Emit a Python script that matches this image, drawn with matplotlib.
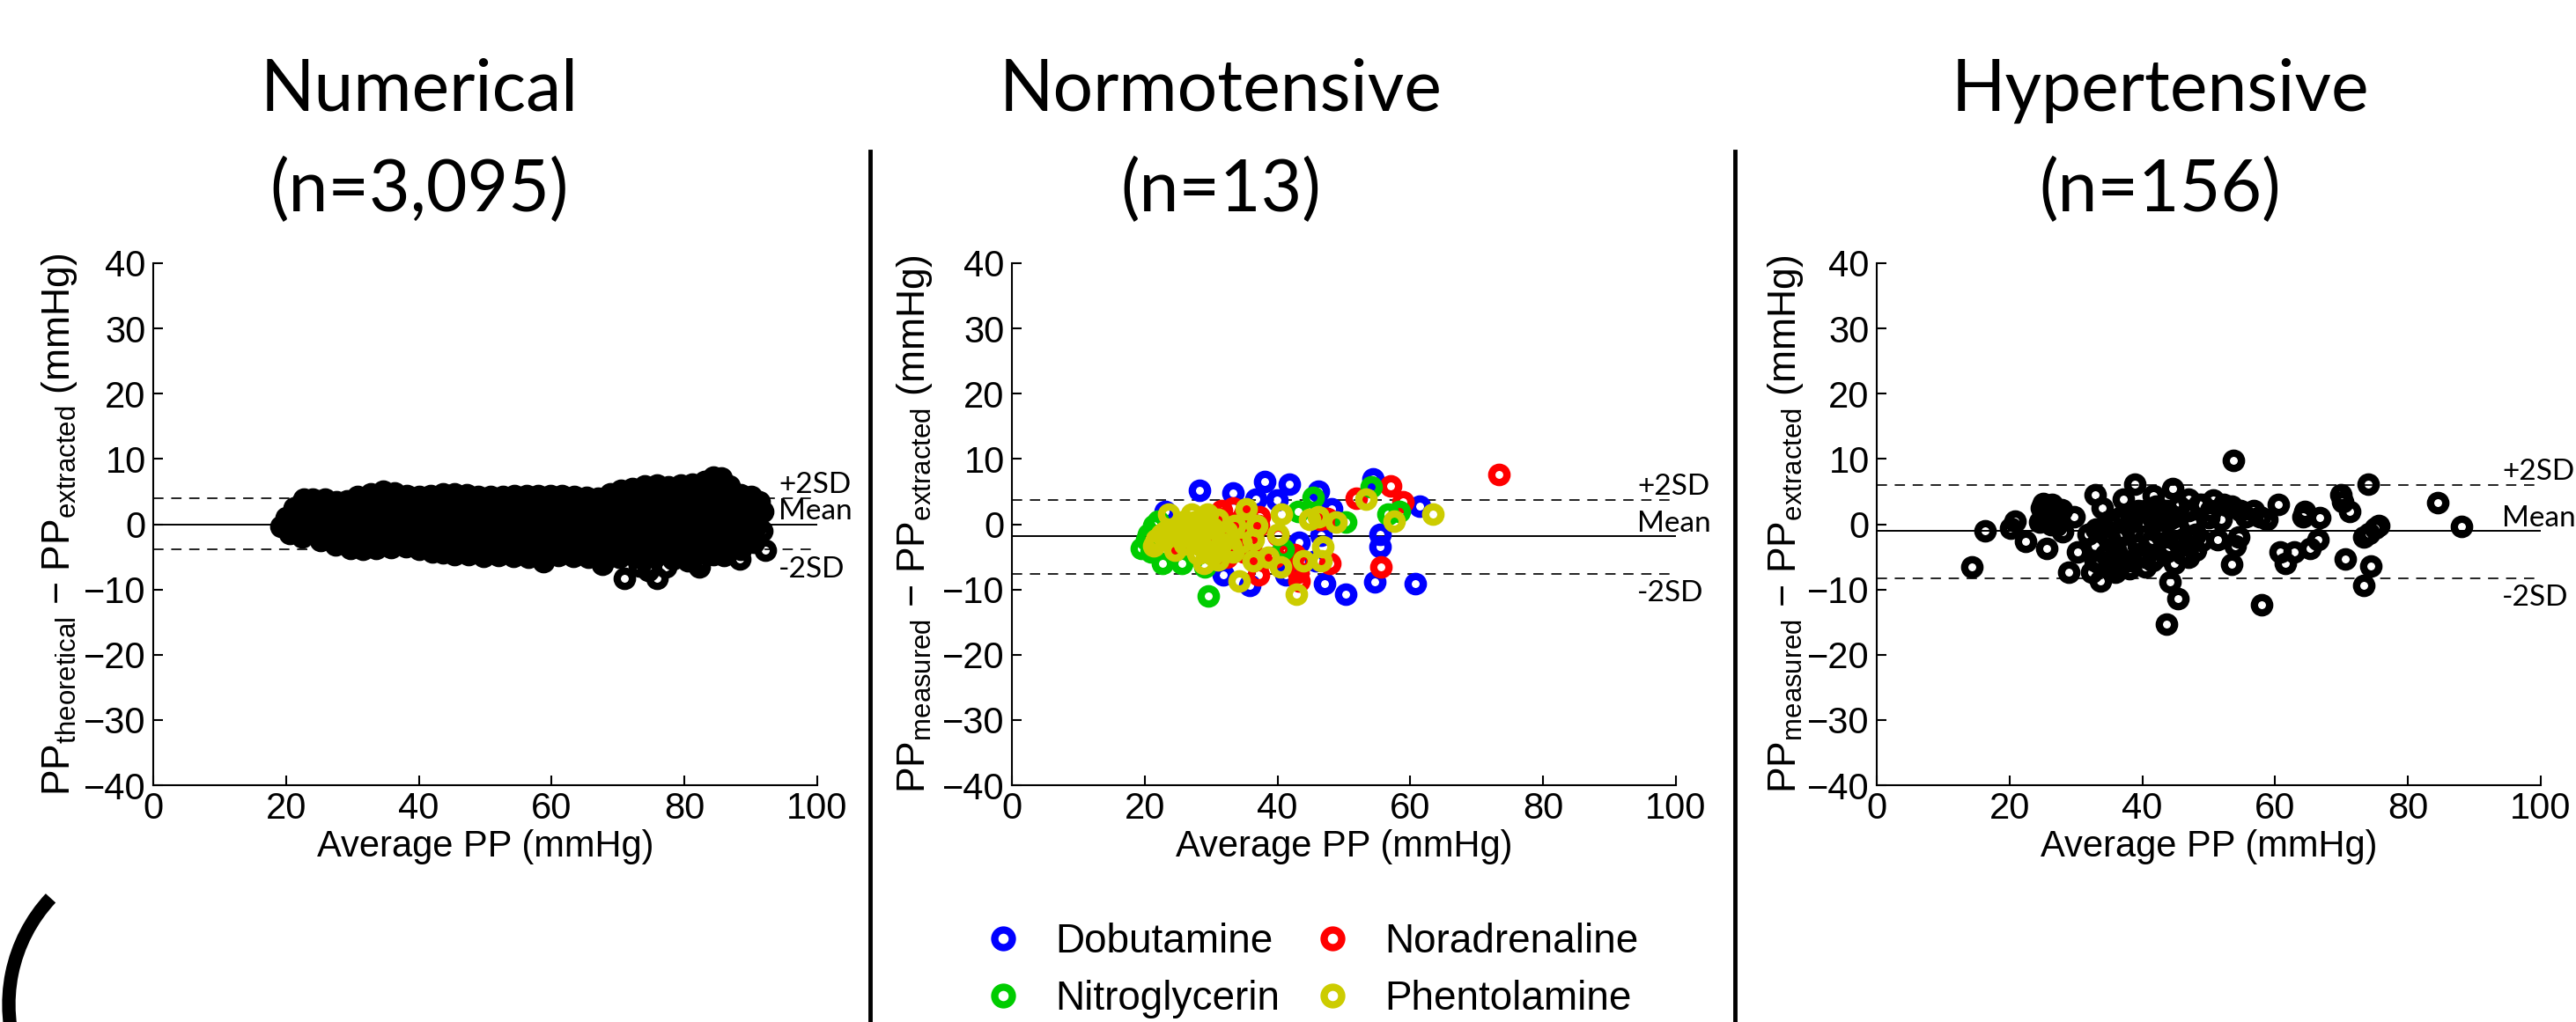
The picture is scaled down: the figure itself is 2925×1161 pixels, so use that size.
import matplotlib
matplotlib.use('Agg')
import matplotlib.pyplot as plt
from matplotlib.lines import Line2D
from matplotlib.patches import Arc

plt.rcParams['font.family'] = ['Liberation Sans', 'DejaVu Sans']
plt.rcParams['mathtext.fontset'] = 'custom'
plt.rcParams['mathtext.rm'] = 'Liberation Sans'
plt.rcParams['mathtext.it'] = 'Liberation Sans:italic'
plt.rcParams['mathtext.bf'] = 'Liberation Sans:bold'

# ---------------- data ----------------
titles_line1 = ['Numerical', 'Normotensive', 'Hypertensive']
titles_line2 = ['(n=3,095)', '(n=13)', '(n=156)']
ylabels = [r'PP$_{\mathrm{theoretical}}$ − PP$_{\mathrm{extracted}}$ (mmHg)',
           r'PP$_{\mathrm{measured}}$ − PP$_{\mathrm{extracted}}$ (mmHg)',
           r'PP$_{\mathrm{measured}}$ − PP$_{\mathrm{extracted}}$ (mmHg)']
xlabel = 'Average PP (mmHg)'
xticks = [0, 20, 40, 60, 80, 100]
yticks = [-40, -30, -20, -10, 0, 10, 20, 30, 40]

mean_lines = [0.0, -1.8, -1.05]
upper_lines = [4.0, 3.75, 6.05]
lower_lines = [-3.9, -7.6, -8.3]

# Numerical: dense cloud (3,095 points) read as its upper and lower edge points
num_top_x = [20.0, 21.2, 22.4, 24.0, 25.8, 27.6, 29.2, 30.8, 32.8, 34.6, 36.4, 38.2,
             40.0, 41.8, 43.6, 45.4, 47.2, 49.0, 50.8, 52.6, 54.4, 56.2, 58.0, 59.8,
             61.6, 63.4, 65.2, 67.0, 68.8, 70.4, 72.2, 74.0, 75.8, 77.6, 79.4, 81.2,
             83.0, 84.4, 85.6, 86.8, 88.4, 90.0, 91.2, 91.8]
num_top_y = [1.0, 2.5, 3.3, 3.8, 3.9, 3.4, 3.6, 4.3, 4.7, 5.1, 4.8, 4.4,
             4.3, 4.4, 4.6, 4.6, 4.5, 4.2, 4.2, 4.3, 4.4, 4.4, 4.4, 4.4,
             4.4, 4.3, 4.1, 4.0, 4.6, 5.2, 5.5, 5.9, 6.0, 5.8, 6.0, 6.1,
             6.5, 7.2, 7.1, 5.9, 4.5, 4.3, 3.5, 2.0]
num_bot_x = [19.2, 20.5, 22.4, 25.2, 27.5, 29.7, 31.6, 33.6, 35.8, 38.1, 40.0, 42.0,
             43.6, 45.3, 47.5, 49.8, 52.0, 54.3, 56.5, 58.7, 61.0, 63.2, 65.5, 67.7,
             70.2, 72.7, 75.5, 78.3, 80.5, 82.3, 84.3, 86.6, 88.5, 90.5, 91.6]
num_bot_y = [-0.3, -1.4, -2.0, -2.5, -3.2, -3.7, -3.8, -3.7, -3.6, -3.5, -3.9, -4.2,
             -4.4, -4.6, -4.7, -4.9, -4.8, -4.9, -5.0, -4.9, -4.8, -4.9, -5.1, -5.2,
             -5.1, -5.0, -5.1, -5.3, -5.6, -5.6, -4.6, -4.1, -3.9, -2.8, -1.0]
num_out_x = [71.0, 75.8, 74.6, 73.2, 77.2, 58.7, 67.7, 82.2, 88.3, 92.2, 86.0, 22.7]
num_out_y = [-8.3, -8.3, -7.1, -6.4, -6.6, -5.7, -6.2, -6.5, -5.3, -4.0, -4.8, 3.8]

# Normotensive, by drug
dob_x = [28.2, 33.3, 38.1, 41.8, 36.7, 39.9, 46.2, 48.2, 23.1, 43.3, 31.8, 35.8,
         41.3, 47.1, 50.2, 54.4, 55.5, 55.4, 54.6, 60.7, 61.4, 45.7, 46.5]
dob_y = [5.2, 4.8, 6.6, 6.1, 3.9, 3.7, 5.0, 2.4, 1.9, -2.8, -7.7, -9.4,
         -7.8, -9.1, -10.7, 7.0, -1.5, -3.4, -8.9, -9.1, 2.8, -5.6, -1.7]
nor_x = [73.4, 57.0, 51.9, 58.9, 55.6, 47.9, 43.3, 42.6, 37.1, 40.0, 37.2, 35.8,
         31.6, 33.3, 34.7, 33.8, 34.9, 32.4, 30.7, 37.3, 25.1, 43.7, 47.5, 46.4,
         43.1, 39.5, 41.3, 31.0, 33.0, 35.0, 34.0, 36.0, 32.0, 30.0, 37.5, 36.0]
nor_y = [7.6, 5.9, 4.0, 3.4, -6.5, -6.0, -8.7, -4.7, -0.2, -1.7, -7.8, -4.7,
         2.1, 2.5, 0.7, -2.0, -4.2, -5.1, 0.7, 1.2, -3.3, -5.6, 0.9, 0.8,
         -7.4, -5.1, -4.4, 1.0, 0.0, 1.5, -1.5, -3.5, -3.5, -1.0, -5.5, 0.2]
nit_x = [45.3, 54.1, 56.6, 58.3, 21.4, 19.5, 22.7, 25.6, 29.6, 29.0, 50.2, 43.1,
         40.9, 20.3, 20.5, 22.0, 21.0]
nit_y = [4.1, 5.7, 1.6, 1.9, -0.2, -3.7, -6.0, -6.0, -11.0, -6.5, 0.3, 1.9,
         -3.8, -2.4, -1.5, 0.5, -4.2]
phe_x = [23.6, 27.1, 28.9, 30.2, 28.0, 21.8, 21.4, 25.8, 26.7, 28.5, 28.9, 31.6,
         32.4, 35.3, 36.9, 36.4, 36.4, 34.2, 38.6, 40.0, 40.6, 40.4, 43.9, 46.6,
         46.8, 44.8, 46.2, 48.8, 42.8, 53.3, 57.5, 63.4, 24.9, 23.1, 30.2, 33.3,
         24.0, 26.0, 27.0, 29.0, 30.0, 31.0, 32.0, 33.0, 28.0, 26.0, 24.5, 22.5,
         30.5, 27.5, 29.5, 33.5, 34.5, 31.0]
phe_y = [1.6, 1.6, 0.7, -0.6, -1.1, -2.4, -3.3, -0.2, -2.0, -3.3, -6.0, -2.9,
         -1.1, 2.3, -0.2, -2.4, -5.6, -8.7, -5.1, -1.5, 1.6, -6.5, -5.6, -5.6,
         -3.5, 0.7, 1.2, 0.3, -10.7, 3.8, 0.5, 1.6, -0.6, -1.1, -4.7, -4.2,
         -1.0, 0.5, -1.5, -0.3, -2.5, 0.8, -1.8, -3.5, -4.5, -3.0, -4.0, -1.5,
         -4.2, 0.3, 1.5, -0.2, -2.8, -5.5]
drug_names = ['Dobutamine', 'Nitroglycerin', 'Noradrenaline', 'Phentolamine']
drug_colors = ['#0000ff', '#00cc00', '#ff0000', '#cccc00']

# Hypertensive
hyp_x = [14.3, 16.3, 20.2, 20.8, 22.4, 25.6, 28.9, 29.7, 30.2, 32.9,
         34.0, 32.4, 33.7, 35.9, 35.9, 37.2, 38.9, 41.6, 40.5, 44.5,
         47.0, 44.2, 45.4, 43.6, 53.7, 50.7, 51.3, 53.5, 54.0, 54.5,
         54.8, 53.5, 58.0, 60.5, 60.7, 61.6, 62.9, 64.2, 64.5, 66.7,
         65.3, 66.5, 69.9, 70.1, 71.2, 70.6, 74.0, 73.4, 74.4, 73.4,
         74.2, 75.1, 75.6, 84.5, 88.1,
         31.8, 32.9, 34.0, 35.1, 36.1, 37.2, 38.3, 39.4, 40.5, 41.5,
         42.6, 43.7, 44.8, 45.9, 46.9, 48.0, 47.5, 44.8, 42.6, 39.4,
         36.1, 34.5, 38.3, 41.5, 43.7, 46.9, 48.6, 50.2, 51.8, 52.3,
         55.6, 56.7, 57.7, 58.8, 46.9, 35.1, 32.9,
         24.8, 25.9, 25.3, 26.4, 24.5, 27.5, 27.0, 28.0,
         36.5, 37.5, 38.5, 39.5, 40.0, 41.0, 42.0, 43.0, 44.0, 45.0,
         46.0, 47.0, 48.0, 49.0, 50.0, 49.0, 34.5, 33.5, 36.5, 38.0,
         40.5, 42.0, 45.5, 44.0, 41.5, 39.0, 37.0, 35.0, 33.0, 25.5,
         26.5, 25.0, 26.2, 27.8]
hyp_y = [-6.6, -1.0, -0.6, 0.5, -2.6, -3.75, -7.35, 1.2, -4.2, 4.55,
         2.5, -7.35, -8.7, -7.35, -6.0, 3.9, 6.1, 4.35, 2.1, 5.45,
         3.9, -8.9, -11.4, -15.35, 9.75, 3.7, -2.4, -6.2, -3.3, -2.0,
         2.1, 2.8, -12.3, 3.0, -4.2, -6.0, -4.2, 1.2, 1.9, 1.0,
         -3.75, -2.4, 4.55, 3.4, 1.9, -5.3, 6.1, -9.4, -6.45, -2.0,
         -1.4, -0.6, -0.2, 3.35, -0.4,
         -1.5, -3.3, -0.6, -2.4, -4.2, -1.5, 0.3, -3.3, -5.1, -2.4,
         -0.6, -4.2, -6.0, -2.4, -3.3, -1.5, 0.3, 1.2, 2.1, 2.1,
         0.7, -4.7, -5.6, -5.6, 2.1, 2.1, 3.0, 2.1, 0.7, 3.0,
         1.2, 2.1, 1.2, 0.7, -5.1, -5.6, -5.6,
         2.5, 2.1, 0.7, 3.0, 0.3, 1.6, -0.2, -1.1,
         -2.0, -3.5, -1.0, -4.5, 0.5, -3.0, -5.0, -1.5, -3.5, -0.5,
         -4.5, -2.0, -4.0, -2.5, 1.0, 3.0, -1.5, -6.0, -6.5, -6.8,
         -6.5, 2.8, 2.8, 0.8, 1.0, 1.8, 1.3, 0.5, -0.8, 1.5,
         2.3, 3.2, 0.0, 2.2]

# ---------------- layout ----------------
W, H = 2925, 1161
fig = plt.figure(figsize=(W / 100, H / 100), dpi=100)


def fx(px):
    return px / W


def fy(py):
    return 1 - py / H


axes_left = [174, 1149, 2131]
axes_w = 754
ax_top, ax_bot = 299, 892
title_cx = [476, 1386, 2453]
ylabel_x = [-0.111, -0.117, -0.107]

MS, MEW = 12.5, 6.0
calibri = ['Lato', 'DejaVu Sans']

axs = []
for i in range(3):
    ax = fig.add_axes([fx(axes_left[i]), fy(ax_bot), axes_w / W, (ax_bot - ax_top) / H])
    axs.append(ax)
    ax.set_xlim(0, 100)
    ax.set_ylim(-40, 40)
    ax.set_xticks(xticks)
    ax.set_yticks(yticks)
    for s in ['top', 'right']:
        ax.spines[s].set_visible(False)
    for s in ['left', 'bottom']:
        ax.spines[s].set_linewidth(1.5)
    ax.tick_params(direction='in', length=8, width=1.5, labelsize=30)
    ax.tick_params(axis='y', pad=6)
    ax.tick_params(axis='x', pad=5)
    ax.set_xlabel(xlabel, fontsize=30, labelpad=2)
    ax.set_ylabel(ylabels[i], fontsize=32)
    ax.yaxis.set_label_coords(ylabel_x[i], 0.5)
    ax.axhline(mean_lines[i], color='black', lw=1.4, zorder=1)
    ax.axhline(upper_lines[i], color='#222222', lw=1.4, ls=(0, (6, 4.5)), zorder=1)
    ax.axhline(lower_lines[i], color='#222222', lw=1.4, ls=(0, (6, 4.5)), zorder=1)
    ax.text(94.2, upper_lines[i] + 0.8, '+2SD', fontsize=24, family=calibri,
            ha='left', va='baseline')
    ax.text(94.2, mean_lines[i] + 0.7, 'Mean', fontsize=24, family=calibri,
            ha='left', va='baseline')
    ax.text(94.2, lower_lines[i] - 1.0, '-2SD', fontsize=24, family=calibri,
            ha='left', va='top')
    fig.text(fx(title_cx[i]), fy(125), titles_line1[i], fontsize=58, family=calibri,
             ha='center', va='baseline')
    fig.text(fx(title_cx[i]), fy(240), titles_line2[i], fontsize=58, family=calibri,
             ha='center', va='baseline')

# Panel 1: dense cloud
ax = axs[0]
poly_x = num_top_x + num_bot_x[::-1]
poly_y = num_top_y + num_bot_y[::-1]
ax.fill(poly_x, poly_y, facecolor='black', edgecolor='black', lw=8, zorder=2)
ax.plot(num_top_x, num_top_y, 'o', ms=MS, mew=MEW, mfc='none', mec='black', zorder=3)
ax.plot(num_bot_x, num_bot_y, 'o', ms=MS, mew=MEW, mfc='none', mec='black', zorder=3)
ax.plot(num_out_x, num_out_y, 'o', ms=MS, mew=MEW, mfc='none', mec='black', zorder=3)

# Panel 2: drugs
ax = axs[1]
drug_x = {'Dobutamine': dob_x, 'Nitroglycerin': nit_x, 'Noradrenaline': nor_x, 'Phentolamine': phe_x}
drug_y = {'Dobutamine': dob_y, 'Nitroglycerin': nit_y, 'Noradrenaline': nor_y, 'Phentolamine': phe_y}
handles = {}
for name in ['Dobutamine', 'Noradrenaline', 'Nitroglycerin', 'Phentolamine']:
    c = drug_colors[drug_names.index(name)]
    ln, = ax.plot(drug_x[name], drug_y[name], 'o', ms=MS, mew=MEW, mfc='none', mec=c,
                  zorder=3, label=name)
    handles[name] = ln

# Panel 3
ax = axs[2]
ax.plot(hyp_x, hyp_y, 'o', ms=MS, mew=MEW, mfc='none', mec='black', zorder=3)

# Legend (below panel 2)
fig.legend([handles[n] for n in drug_names], drug_names, ncol=2, frameon=False,
           fontsize=33, loc='upper left', bbox_to_anchor=(fx(1116), fy(1048)),
           borderpad=0, borderaxespad=0, handlelength=1.0, handletextpad=0.79,
           columnspacing=0.8, labelspacing=0.45, markerscale=1.15)

# Separators
for sx in [988, 1970]:
    fig.add_artist(Line2D([fx(sx), fx(sx)], [fy(172), fy(1161)], lw=3.5,
                          color='black', transform=fig.transFigure))

# Decorative arc bottom-left
fig.add_artist(Arc((1.87, 0.20), 3.54, 3.54, theta1=137, theta2=200, lw=11,
                   color='black', transform=fig.dpi_scale_trans))

fig.savefig('out.png', dpi=100)
